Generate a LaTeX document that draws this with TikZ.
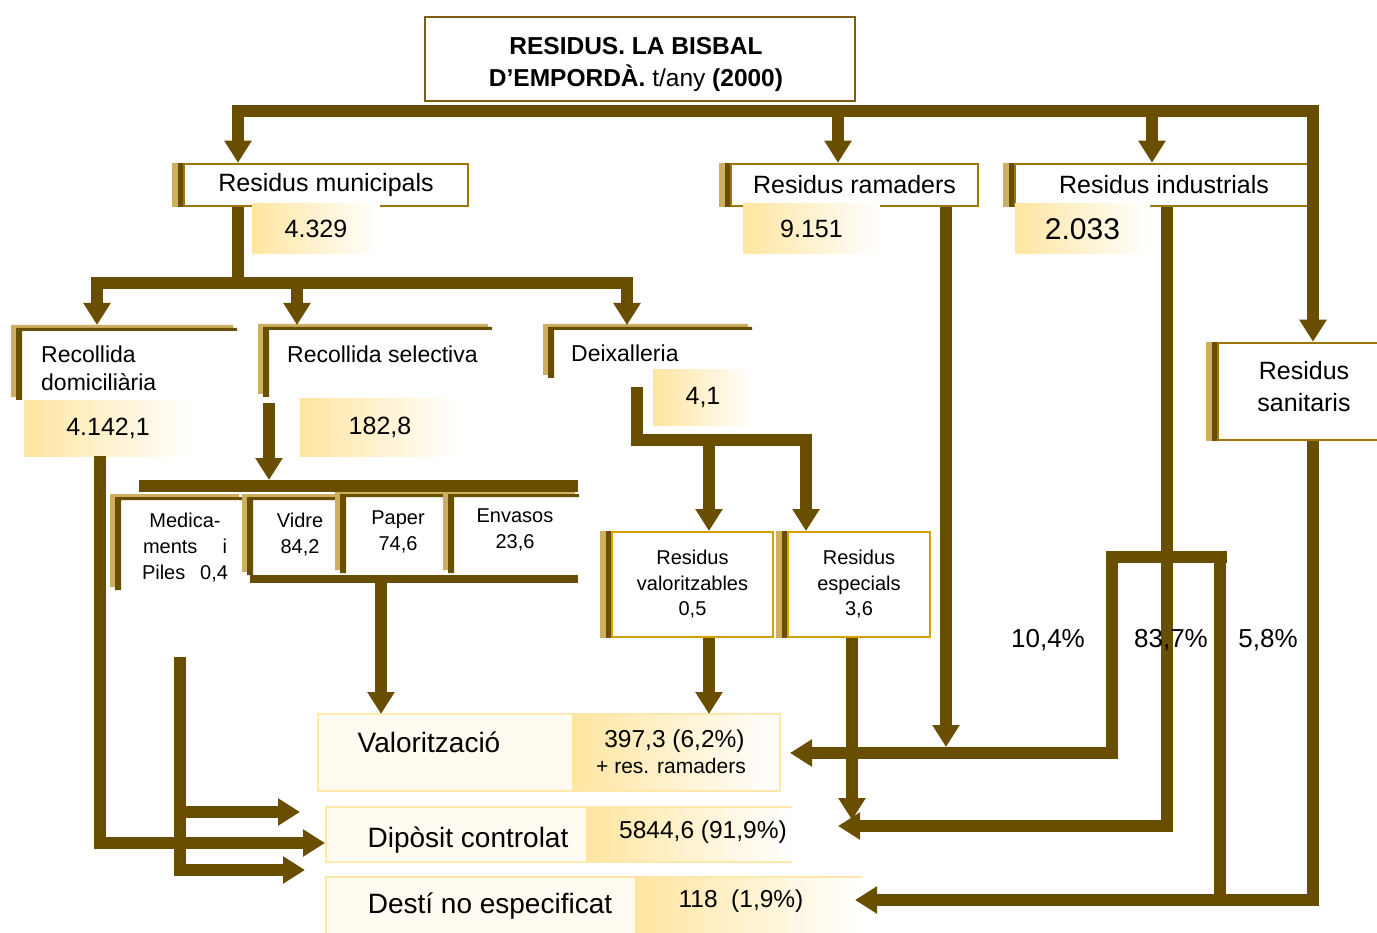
\documentclass[tikz,border=0pt]{standalone}
\usepackage{fontspec}
\setmainfont{Liberation Sans}
\usetikzlibrary{arrows.meta,calc}
\definecolor{flowbrown}{RGB}{106,78,0}
\definecolor{boxgold}{RGB}{158,118,8}
\definecolor{shadetan}{RGB}{205,175,95}
\definecolor{valgold}{RGB}{212,160,10}
\definecolor{valyellow}{RGB}{255,229,160}
\definecolor{palecream}{RGB}{255,251,240}
\definecolor{paleline}{RGB}{255,232,170}
\definecolor{titleline}{RGB}{125,92,20}
\newcommand\fsz[2]{\fontsize{#1}{#2}\selectfont}

\begin{document}
\begin{tikzpicture}[x=1pt,y=-1pt,
    flow/.style={draw=flowbrown,line width=12pt},
    arr/.style={flow,-{Triangle[length=22pt,width=26pt]}},
    arrtwo/.style={flow,{Triangle[length=22pt,width=26pt]}-{Triangle[length=22pt,width=26pt]}},
    hbox/.style={draw=boxgold,line width=2.5pt,fill=white,inner sep=0pt,align=center,font=\fsz{25}{32}},
    sbox/.style={draw=valgold,line width=2pt,fill=white,inner sep=0pt,align=center,font=\fsz{20}{25.5}},
    val/.style={left color=valyellow,middle color=valyellow!45,right color=white,inner sep=0pt,font=\fsz{25}{30}},
    otext/.style={inner sep=0pt,align=left,font=\fsz{23}{28}},
    stext/.style={inner sep=0pt,align=center,font=\fsz{20}{26}},
    big/.style={inner sep=0pt,font=\fsz{28}{34}},
    num/.style={inner sep=0pt,font=\fsz{24.5}{30}},
    pct/.style={inner sep=0pt,font=\fsz{26}{31}}]
\useasboundingbox (0,0) rectangle (1377,933);

\draw[titleline,line width=2.5pt] (425,17) rectangle (855,101);
\node[inner sep=0pt,align=center,font=\fsz{24.5}{32}] (title) at (636,64.8)
  {\textbf{RESIDUS. LA BISBAL}\\\textbf{D’EMPORDÀ.} t/any \textbf{(2000)}};

\node[hbox,minimum width=284,minimum height=42] (muni) at (326,185) {Residus municipals};
\node[hbox,minimum width=247,minimum height=42] (rama) at (854.5,185) {Residus ramaders};
\node[hbox,minimum width=298,minimum height=42] (indu) at (1164,185) {Residus industrials};
\node[hbox,minimum width=172,minimum height=97] (sani) at (1304,391.5) {Residus\\sanitaris\strut};
\node[sbox,minimum width=161,minimum height=105] (valo) at (692.5,584.5) {Residus\\valoritzables\\0,5};
\node[sbox,minimum width=142,minimum height=105] (espe) at (859,584.5) {Residus\\especials\\3,6};
\foreach \n in {muni,rama,indu,sani,valo,espe}{
  \fill[shadetan] ($(\n.north west)+(-11,0)$) rectangle ($(\n.south west)+(-5,0)$);
  \fill[flowbrown] ($(\n.north west)+(-5,0)$) rectangle (\n.south west);
}

\node[val,minimum width=128,minimum height=50] (v-muni) at (316,229) {4.329};
\node[val,minimum width=137,minimum height=50] (v-rama) at (811.5,229) {9.151};
\node[val,minimum width=135,minimum height=50,font=\fsz{30}{36}] (v-indu) at (1082.5,229) {2.033};
\node[val,minimum width=168,minimum height=55] (v-recd) at (108,428.5) {4.142,1};
\node[val,minimum width=160,minimum height=57] (v-recs) at (380,427.5) {182,8};
\node[val,minimum width=100,minimum height=55] (v-deix) at (703,397.5) {4,1};

\foreach \a/\t/\r/\b in {11/325/233/397,258/324/488/394,543/324/748/375,110/494/239/587,242/494/335/572,335/491/443/570,443/491/575/570}{
  \fill[shadetan] (\a,\t) rectangle (\a+5,\b) (\a,\t) rectangle (\r,\t+3);
  \fill[flowbrown] (\a+5,\t+3) rectangle (\a+11,\b+3) (\a+5,\t+3) rectangle (\r+4,\t+6);
}
\node[otext,anchor=north west] (recd) at (41,346) {Recollida\\domiciliària};
\node[otext,anchor=base west] (recs) at (287,363) {Recollida selectiva};
\node[otext,anchor=base west] (deix) at (571,362) {Deixalleria};
\node[stext] (medi) at (185,547.3) {Medica-\\\makebox[84pt]{ments\hfill i}\\\makebox[86pt]{Piles\hfill 0,4}};
\node[stext] (vidr) at (300,534.3) {Vidre\\84,2};
\node[stext] (papr) at (398,531.8) {Paper\\74,6};
\node[stext] (enva) at (515,529.8) {Envasos\\23,6};

\fill[palecream] (318,714) rectangle (572,791);
\shade[left color=valyellow,right color=white] (572,714) rectangle (780,791);
\draw[paleline,line width=2.5pt] (318,714) rectangle (780,791);
\fill[palecream] (326,807) rectangle (586,862);
\shade[left color=valyellow,right color=white] (586,807) rectangle (792,862);
\draw[paleline,line width=2.5pt] (792,807) -| (326,862) -- (792,862);
\fill[palecream] (326,877) rectangle (635,940);
\shade[left color=valyellow,right color=white] (635,877) rectangle (862,940);
\draw[paleline,line width=2.5pt] (862,877) -| (326,940);
\node[big,anchor=base] (valz) at (429,752) {Valorització};
\node[num,anchor=base] (valz-n) at (674.5,747) {397,3 (6,2\%)};
\node[inner sep=0pt,font=\fsz{21}{26},anchor=base] (valz-r) at (671,773) {+ res. ramaders};
\node[big,anchor=base] (dipo) at (468,847) {Dipòsit controlat};
\node[num,anchor=base] (dipo-n) at (703,838) {5844,6 (91,9\%)};
\node[big,anchor=base] (desti) at (490,913) {Destí no especificat};
\node[num,anchor=base] (desti-n) at (741,907) {118\ \ (1,9\%)};

\coordinate (tl) at (238,111);
\coordinate (tr) at (1313,111);
\coordinate (tj2) at (838,111);
\coordinate (tj3) at (1152,111);
\draw[arrtwo] (tl |- muni.north) -- (tl) -- (tr) -- (tr |- sani.north);
\draw[arr] (tj2) -- (tj2 |- rama.north);
\draw[arr] (tj3) -- (tj3 |- indu.north);

\coordinate (mj) at (238,283);
\coordinate (ml) at (97,283);
\coordinate (mr) at (627,283);
\coordinate (ms) at (297,283);
\coordinate (recd-in) at (97,325);
\coordinate (recs-in) at (297,325);
\coordinate (deix-in) at (627,325);
\draw[flow] (muni.south -| mj) -- (mj);
\draw[arrtwo] (recd-in) -- (ml) -- (mr) -- (deix-in);
\draw[arr] (ms) -- (recs-in);

\coordinate (rs-top) at (269,403);
\coordinate (rs-bar) at (269,480);
\coordinate (sb-l) at (139,486);
\coordinate (sb-r) at (578,486);
\coordinate (pb-l) at (250,579);
\coordinate (pb-r) at (578,579);
\coordinate (pj) at (381,579);
\coordinate (valzbox) at (318,714);
\draw[arr] (rs-top) -- (rs-bar);
\draw[flow] (sb-l) -- (sb-r);
\draw[flow,line width=8pt] (pb-l) -- (pb-r);
\draw[arr] (pj) -- (pj |- valzbox);

\coordinate (dx1) at (636.5,387);
\coordinate (dx2) at (636.5,440);
\coordinate (dx3) at (806,440);
\coordinate (dxv) at (709,440);
\draw[arr] (dx1) -- (dx2) -- (dx3) -- (dx3 |- espe.north);
\draw[arr] (dxv) -- (dxv |- valo.north);
\draw[arr] (valo.south -| dxv) -- (dxv |- valzbox);

\coordinate (ex) at (852,820);
\coordinate (rx) at (946,747);
\coordinate (ix) at (1167,826);
\coordinate (dipo-in) at (838,826);
\draw[arr] (espe.south -| ex) -- (ex);
\draw[arr] (rama.south -| rx) -- (rx);
\draw[arr] (indu.south -| ix) -- (ix) -- (dipo-in);

\coordinate (tj) at (1112,557);
\coordinate (tjr) at (1227,557);
\coordinate (tv) at (1112,753);
\coordinate (valz-in) at (790,753);
\coordinate (t5) at (1220,563);
\coordinate (t5b) at (1220,900);
\coordinate (sx) at (1313,900);
\coordinate (desti-in) at (855,900);
\draw[arr] (tjr) -- (tj) -- (tv) -- (valz-in);
\draw[flow] (t5) -- (t5b);
\draw[arr] (sani.south -| sx) -- (sx) -- (desti-in);

\coordinate (dl) at (100,843);
\coordinate (dipo-l) at (325,843);
\coordinate (mt) at (180,657);
\coordinate (m1) at (180,812);
\coordinate (m1e) at (300,812);
\coordinate (m2) at (180,870);
\coordinate (m2e) at (305,870);
\draw[arr] (v-recd.south -| dl) -- (dl) -- (dipo-l);
\draw[arr] (mt) -- (m2) -- (m2e);
\draw[arr] (m1) -- (m1e);

\node[pct,anchor=base] (p-valz) at (1048,647) {10,4\%};
\node[pct,anchor=base] (p-dipo) at (1171,647) {83,7\%};
\node[pct,anchor=base] (p-desti) at (1268,647) {5,8\%};
\end{tikzpicture}
\end{document}
